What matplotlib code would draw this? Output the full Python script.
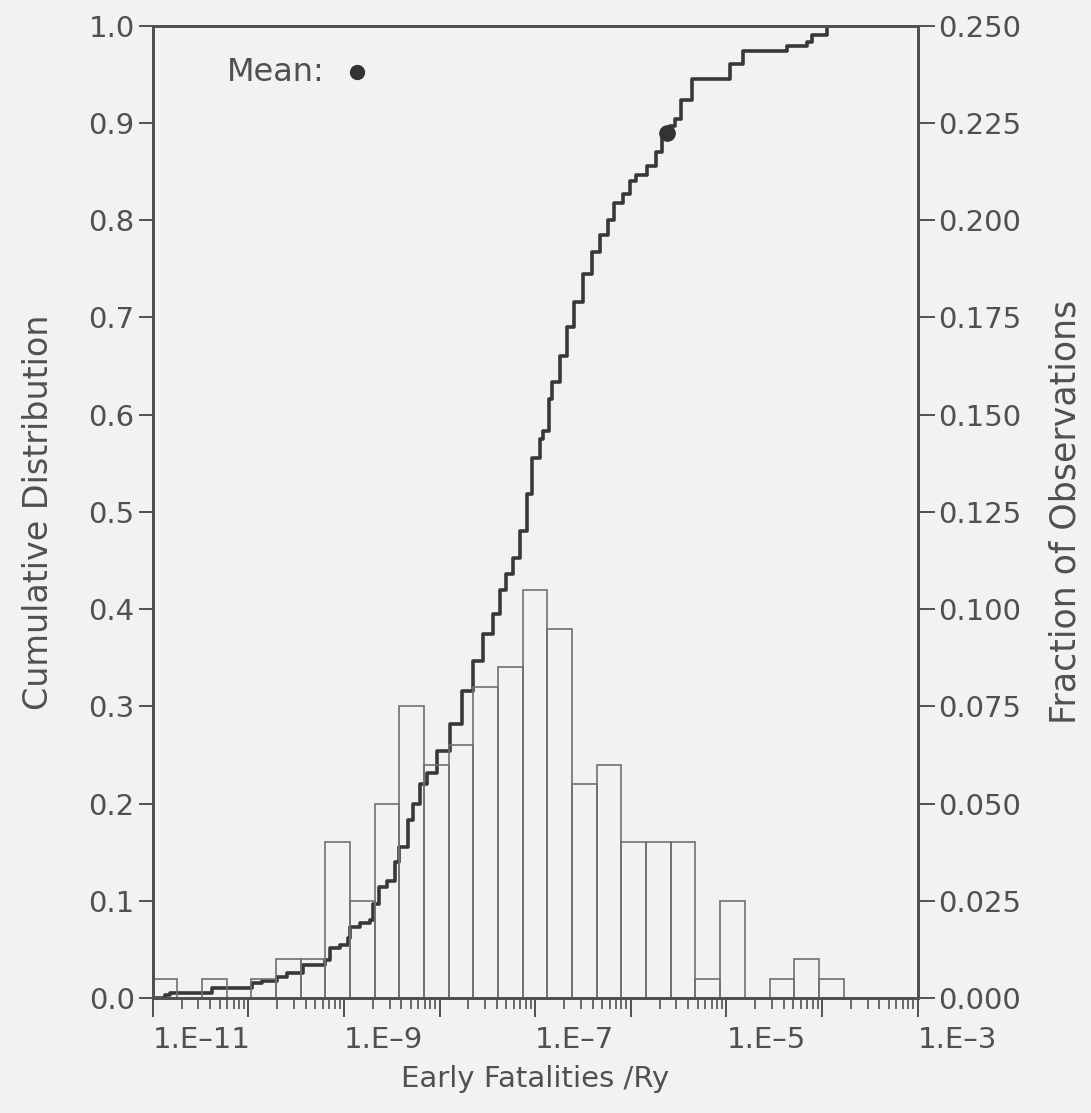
import numpy as np
import matplotlib
matplotlib.use("Agg")
from matplotlib import pyplot as plt
from matplotlib.ticker import LogLocator, FuncFormatter, MultipleLocator, NullFormatter

# histogram: 31 log-spaced bins between 1e-11 and 1e-3, fraction of observations (right axis)
bin_lo, bin_hi, n_bins = -11, -3, 31
fractions = [0.005, 0.0, 0.005, 0.0, 0.005, 0.010, 0.010, 0.040, 0.025, 0.050,
             0.075, 0.060, 0.065, 0.080, 0.085, 0.105, 0.095, 0.055, 0.060, 0.040,
             0.040, 0.040, 0.005, 0.025, 0.0, 0.005, 0.010, 0.005, 0.0, 0.0, 0.0]

# cumulative distribution (log10 of value, cumulative fraction)
cdf_log = [-11.0, -10.87, -10.82, -10.38, -9.96, -9.86, -9.70, -9.60, -9.43, -9.20,
           -9.15, -9.04, -8.96, -8.94, -8.83, -8.73, -8.70, -8.63, -8.55, -8.47,
           -8.42, -8.33, -8.28, -8.20, -8.13, -8.03, -7.89, -7.77, -7.65, -7.55,
           -7.44, -7.37, -7.30, -7.23, -7.16, -7.09, -7.03, -6.95, -6.92, -6.85,
           -6.82, -6.74, -6.67, -6.59, -6.50, -6.41, -6.32, -6.24, -6.17, -6.08,
           -6.01, -5.94, -5.83, -5.74, -5.67, -5.59, -5.54, -5.47, -5.36, -4.96,
           -4.83, -4.37, -4.16, -4.10, -3.95]
cdf_val = [0.0, 0.003, 0.005, 0.010, 0.015, 0.017, 0.022, 0.026, 0.034, 0.039,
           0.051, 0.055, 0.062, 0.073, 0.077, 0.080, 0.097, 0.114, 0.120, 0.140,
           0.155, 0.183, 0.200, 0.220, 0.231, 0.254, 0.282, 0.316, 0.347, 0.374,
           0.395, 0.420, 0.436, 0.452, 0.480, 0.518, 0.555, 0.575, 0.583, 0.616,
           0.634, 0.660, 0.690, 0.716, 0.745, 0.767, 0.785, 0.800, 0.818, 0.827,
           0.840, 0.846, 0.856, 0.870, 0.885, 0.897, 0.904, 0.924, 0.945, 0.960,
           0.974, 0.979, 0.983, 0.990, 1.0]

mean_x = 2.4e-6
mean_cdf = 0.89

ink = '#505050'
bg = '#f2f2f2'

fig = plt.figure(figsize=(10.91, 11.13), dpi=100, facecolor=bg)
ax = fig.add_axes([0.140, 0.1033, 0.701, 0.8737], facecolor=bg)
ax2 = ax.twinx()

edges = np.logspace(bin_lo, bin_hi, n_bins + 1)
ax2.bar(edges[:-1], fractions, width=np.diff(edges), align='edge',
        fill=False, edgecolor='#707070', linewidth=1.2)

ax.step(10 ** np.array(cdf_log), cdf_val, where='post', color='#383838', lw=2.6)
ax.plot(mean_x, mean_cdf, 'o', color='#333333', ms=11)

ax.set_xscale('log')
ax.set_xlim(1e-11, 1e-3)
ax.set_ylim(0, 1)
ax2.set_ylim(0, 0.25)

ax.xaxis.set_major_locator(LogLocator(base=10, numticks=20))
ax.xaxis.set_minor_locator(LogLocator(base=10, subs=np.arange(2, 10), numticks=200))
ax.xaxis.set_minor_formatter(NullFormatter())


def fmt_x(v, pos):
    e = int(round(np.log10(v)))
    return '1.E\u2013%d' % (-e) if e % 2 else ''


ax.xaxis.set_major_formatter(FuncFormatter(fmt_x))
ax.yaxis.set_major_locator(MultipleLocator(0.1))
ax.yaxis.set_major_formatter(FuncFormatter(lambda v, p: '%.1f' % v))
ax2.yaxis.set_major_locator(MultipleLocator(0.025))
ax2.yaxis.set_major_formatter(FuncFormatter(lambda v, p: '%.3f' % v))

fs = 21
ax.tick_params(axis='x', which='major', direction='out', length=14, width=1.4,
               colors=ink, labelsize=fs, pad=6)
ax.tick_params(axis='x', which='minor', direction='out', length=8, width=1.2, colors=ink)
ax.tick_params(axis='y', direction='out', length=10, width=1.4, colors=ink,
               labelsize=fs, pad=3)
ax2.tick_params(axis='y', direction='out', length=12, width=1.4, colors=ink,
                labelsize=fs, pad=3)
for lbl in ax.get_xticklabels():
    lbl.set_ha('left')

for a in (ax, ax2):
    for s in a.spines.values():
        s.set_color(ink)
        s.set_linewidth(2.0)

ax.set_xlabel('Early Fatalities /Ry', fontsize=21, color=ink, labelpad=8)
ax.set_ylabel('Cumulative Distribution', fontsize=24, color=ink, labelpad=24)
ax2.set_ylabel('Fraction of Observations', fontsize=25, color=ink, labelpad=19)

ax.text(0.097, 0.952, 'Mean:', transform=ax.transAxes, fontsize=23, color=ink,
        va='center', ha='left')
ax.plot(0.267, 0.952, 'o', transform=ax.transAxes, color='#333333', ms=10)

fig.savefig('out.png', dpi=100, facecolor=bg)
